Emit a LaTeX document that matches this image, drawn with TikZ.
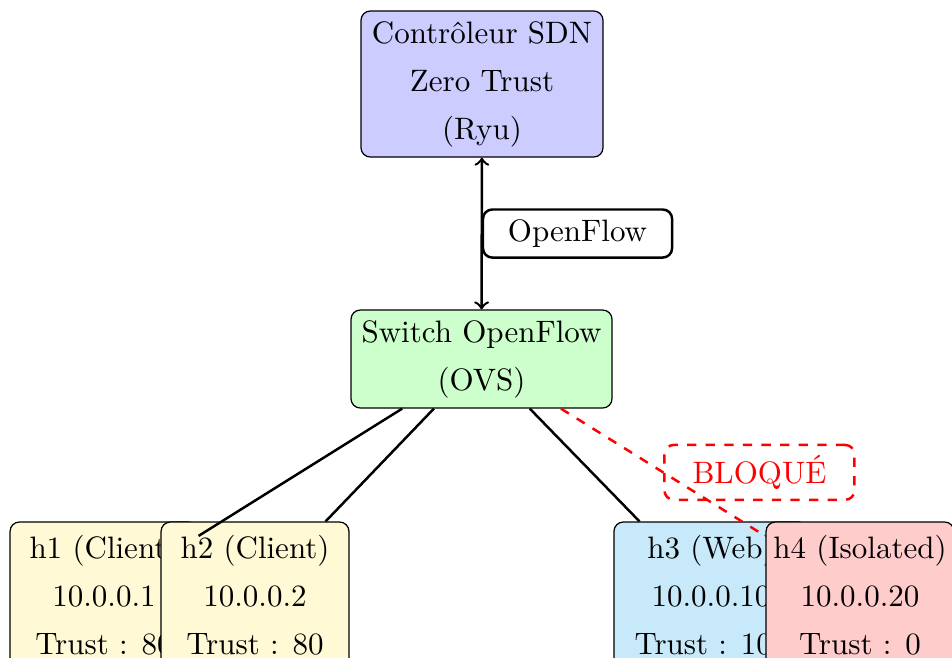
\documentclass[tikz,border=0pt]{standalone}
\usetikzlibrary{arrows}

\definecolor{ctrlfill}{RGB}{204,204,255}
\definecolor{swfill}{RGB}{204,255,204}
\definecolor{clientfill}{RGB}{255,249,214}
\definecolor{webfill}{RGB}{199,233,249}
\definecolor{isofill}{RGB}{255,204,204}

\begin{document}
\begin{tikzpicture}[
  x=0.32258pt, y=-0.32258pt,
  box/.style={draw, rounded corners=3pt, align=center, inner sep=0pt,
              font=\fontsize{10}{15.5}\selectfont},
  host/.style={box, minimum width=60.6pt, minimum height=47.1pt},
  link/.style={thick},
  tag/.style={draw, thick, rounded corners=3pt, fill=white, inner sep=0pt,
              minimum width=61pt, minimum height=15.5pt, right,
              font=\fontsize{10}{12}\selectfont},
  blocked/.style={thick, dashed, red},
]
\clip (0,0) rectangle (952,657);

% controller and switch
\node[box, fill=ctrlfill, minimum width=78.07pt, minimum height=47.1pt]
  (ctrl) at (482,84) {Contrôleur SDN\\Zero Trust\\(Ryu)};
\node[box, fill=swfill, minimum width=84.2pt, minimum height=31.6pt]
  (sw) at (481.5,359) {Switch OpenFlow\\(OVS)};

% hosts
\node[host, fill=clientfill] (h1) at (104,595) {h1 (Client)\\10.0.0.1\\Trust : 80};
\node[host, fill=clientfill] (h2) at (255,595) {h2 (Client)\\10.0.0.2\\Trust : 80};
\node[host, fill=webfill, minimum width=62.6pt] (h3) at (711,595) {h3 (Web)\\10.0.0.10\\Trust : 100};
\node[host, fill=isofill] (h4) at (860,595) {h4 (Isolated)\\10.0.0.20\\Trust : 0};

% links
\draw[link, <->] (ctrl) -- node[tag] (of) {OpenFlow} (sw);
\draw[link] (sw) -- (h1);
\draw[link] (sw) -- (h2);
\draw[link] (sw) -- (h3);
\draw[blocked] (sw) -- node[right, draw=red, thick, dashed, rounded corners=3pt,
  inner sep=0pt, minimum width=61.3pt, minimum height=17.7pt,
  text=red, font=\fontsize{10}{12}\selectfont] (blk) {BLOQUÉ} (h4);
\end{tikzpicture}
\end{document}
